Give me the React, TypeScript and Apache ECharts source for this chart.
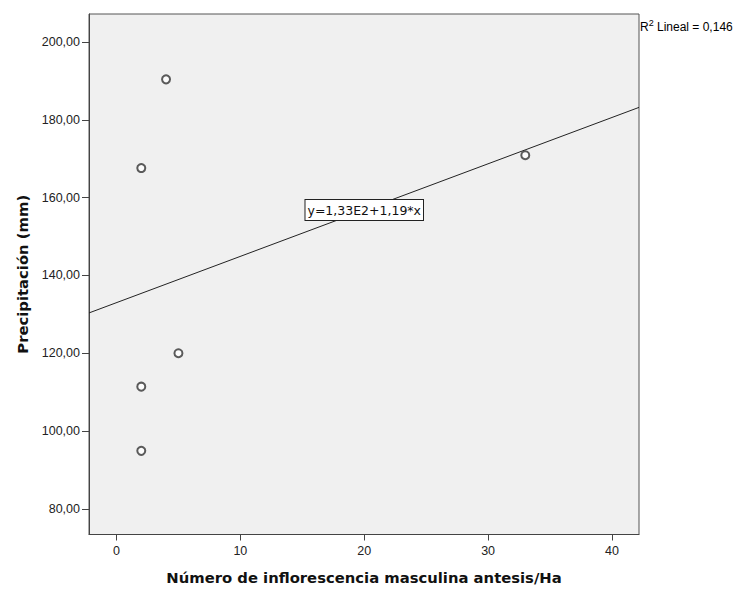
import React, { useEffect, useRef } from "react";
import * as echarts from "echarts";

const xValues = [4, 2, 33, 5, 2, 2];
const yValues = [190.4, 167.6, 170.9, 120.0, 111.4, 94.9];
const xTicks = [0, 10, 20, 30, 40];
const yTicks = [80, 100, 120, 140, 160, 180, 200];
const fitIntercept = 133;
const fitSlope = 1.19;
const fitLabel = "y=1,33E2+1,19*x";
const r2Value = "0,146";
const xTitle = "Número de inflorescencia masculina antesis/Ha";
const yTitle = "Precipitación (mm)";

const X_MIN = -2.22;
const X_MAX = 42.18;
const Y_MIN = 73.4;
const Y_MAX = 207.2;

export default function App() {
  const ref = useRef<HTMLDivElement>(null);
  useEffect(() => {
    if (!ref.current) return;
    const chart = echarts.init(ref.current, undefined, { renderer: "svg" });
    const font = "'Liberation Sans', Arial, sans-serif";
    const wide = "'DejaVu Sans', sans-serif";
    const points = xValues.map((x, i) => [x, yValues[i]]);
    const fit = (x: number) => fitIntercept + fitSlope * x;
    chart.setOption({
      animation: false,
      backgroundColor: "#ffffff",
      grid: {
        left: 89,
        right: 100,
        top: 14,
        bottom: 55.5,
        show: true,
        backgroundColor: "#f0f0f0",
        borderColor: "#555555",
        borderWidth: 1,
      },
      xAxis: {
        type: "value",
        min: X_MIN,
        max: X_MAX,
        name: xTitle,
        nameLocation: "middle",
        nameGap: 35,
        nameTextStyle: { fontFamily: wide, fontWeight: "bold", fontSize: 14.8, color: "#111" },
        splitLine: { show: false },
        axisLine: { show: true, onZero: false, lineStyle: { color: "#444", width: 1 } },
        axisTick: { show: true, length: 6, customValues: xTicks, lineStyle: { color: "#444" } },
        axisLabel: {
          customValues: xTicks,
          fontFamily: font,
          fontSize: 12.5,
          color: "#222",
          margin: 10,
          formatter: (v: number) => String(v),
        },
      },
      yAxis: {
        type: "value",
        min: Y_MIN,
        max: Y_MAX,
        name: yTitle,
        nameLocation: "middle",
        nameGap: 59,
        nameTextStyle: { fontFamily: wide, fontWeight: "bold", fontSize: 14.8, color: "#111" },
        splitLine: { show: false },
        axisLine: { show: true, onZero: false, lineStyle: { color: "#444", width: 1 } },
        axisTick: { show: true, length: 7, customValues: yTicks, lineStyle: { color: "#444" } },
        axisLabel: {
          customValues: yTicks,
          fontFamily: font,
          fontSize: 12.5,
          color: "#222",
          margin: 9,
          formatter: (v: number) => v.toFixed(2).replace(".", ","),
        },
      },
      series: [
        {
          type: "line",
          data: [
            [X_MIN, fit(X_MIN)],
            [X_MAX, fit(X_MAX)],
          ],
          symbol: "none",
          lineStyle: { color: "#222", width: 1 },
          z: 2,
          markPoint: {
            symbol: "rect",
            symbolSize: 0,
            data: [{ coord: [20, fit(20)] }],
            label: {
              show: true,
              position: "inside",
              formatter: fitLabel,
              fontFamily: wide,
              fontSize: 12.5,
              color: "#111",
              backgroundColor: "#ffffff",
              borderColor: "#222",
              borderWidth: 1,
              padding: [4, 2, 3, 2],
            },
          },
        },
        {
          type: "scatter",
          data: points,
          symbol: "emptyCircle",
          symbolSize: 8,
          itemStyle: { color: "#333", borderColor: "#333", borderWidth: 1.2 },
          z: 3,
        },
      ],
      graphic: [
        {
          type: "text",
          left: 640,
          top: 18,
          style: {
            text: "{r|R}{s|2}{r| Lineal = " + r2Value + "}",
            rich: {
              r: { fontFamily: font, fontSize: 12, color: "#111", verticalAlign: "bottom", lineHeight: 15 },
              s: { fontFamily: font, fontSize: 9, color: "#111", verticalAlign: "top", lineHeight: 15, padding: [0, 0, 5, 0] },
            },
          },
        },
      ],
    });
    return () => chart.dispose();
  }, []);
  return (
    <div
      ref={ref}
      style={{ position: "fixed", left: 0, top: 0, width: 739, height: 590 }}
    />
  );
}
